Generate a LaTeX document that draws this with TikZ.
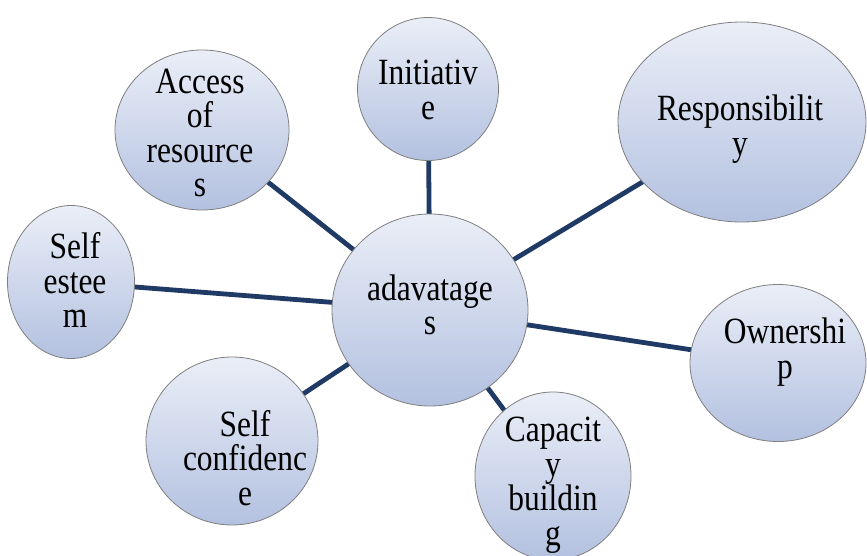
\documentclass[tikz,border=0pt]{standalone}
\usepackage{fontspec}
\setmainfont{Liberation Serif}[FakeStretch=0.85]
\usetikzlibrary{shapes.geometric,backgrounds}
\definecolor{navyline}{HTML}{1F3A64}
\definecolor{bubtop}{HTML}{EAEEF7}
\definecolor{bubbot}{HTML}{B3C1E0}
\definecolor{bubedge}{HTML}{7F7F7F}
\tikzset{
  bubble/.style={ellipse, draw=bubedge, line width=0.8pt, top color=bubtop, bottom color=bubbot, inner sep=0pt},
  lbl/.style={align=center, inner sep=0pt, font=\fontsize{37}{34.5}\selectfont},
  link/.style={draw=navyline, line width=4.8pt}
}
\begin{document}
\begin{tikzpicture}[x=1pt,y=-1pt]
\useasboundingbox (0,0) rectangle (867,556);
% bubbles
\node[bubble, minimum width=196pt, minimum height=192pt] (adv) at (430,310) {};
\node[bubble, minimum width=141pt, minimum height=143pt] (ini) at (428,89) {};
\node[bubble, minimum width=174pt, minimum height=160pt] (acc) at (202,130) {};
\node[bubble, minimum width=248pt, minimum height=200pt] (res) at (742,122) {};
\node[bubble, minimum width=127pt, minimum height=153pt] (est) at (71,282) {};
\node[bubble, minimum width=176pt, minimum height=157pt] (own) at (778,363) {};
\node[bubble, minimum width=172pt, minimum height=168pt] (con) at (232,441) {};
\node[bubble, minimum width=156pt, minimum height=168pt] (cap) at (553,476) {};
% connectors
\begin{scope}[on background layer]
\draw[link] (adv.center) -- (ini.center);
\draw[link] (adv.center) -- (acc.center);
\draw[link] (adv.center) -- (res.center);
\draw[link] (adv.center) -- (est.center);
\draw[link] (adv.center) -- (own.center);
\draw[link] (adv.center) -- (con.center);
\draw[link] (adv.center) -- (cap.center);
\end{scope}
% labels
\node[lbl] (tadv) at (430,305) {adavatage\\s};
\node[lbl] (tini) at (428,90) {Initiativ\\e};
\node[lbl] (tacc) at (200,133) {Access\\of\\resource\\s};
\node[lbl] (tres) at (740,129) {Responsibilit\\y};
\node[lbl] (test) at (75,280) {Self\\estee\\m};
\node[lbl] (town) at (785,352) {Ownershi\\p};
\node[lbl] (tcon) at (245,458) {Self\\confidenc\\e};
\node[lbl] (tcap) at (553,485) {Capacit\\y\\buildin\\g};
\end{tikzpicture}
\end{document}
